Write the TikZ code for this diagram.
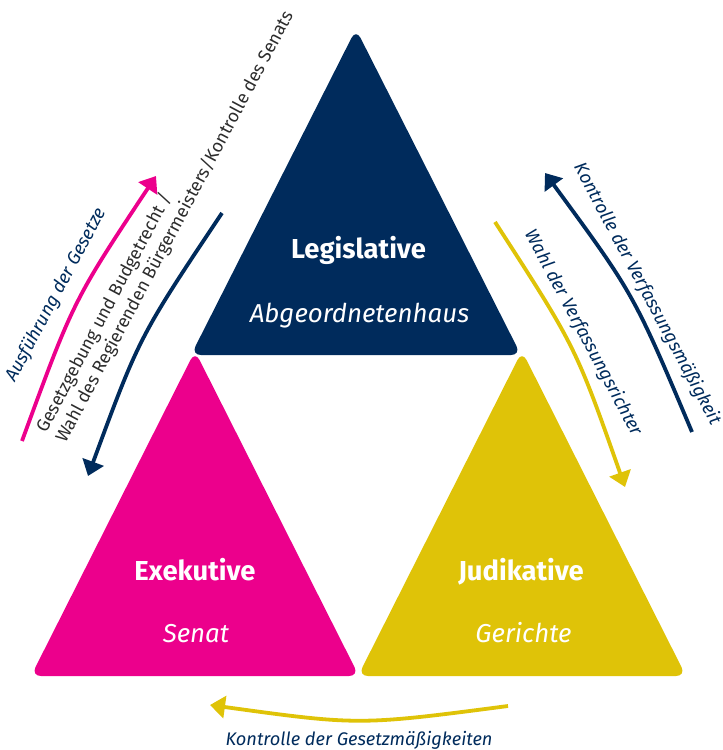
\documentclass[tikz,border=0pt]{standalone}
\usepackage{fontspec}
\setmainfont{Fira Sans}
\usetikzlibrary{arrows.meta}
\definecolor{cnavy}{RGB}{0,43,92}
\definecolor{cmag}{RGB}{236,0,140}
\definecolor{cyel}{RGB}{223,195,8}
\definecolor{cgray}{RGB}{45,45,45}
\begin{document}
\begin{tikzpicture}[x=1bp,y=-1bp,
  tri/.style={rounded corners=10bp},
  title/.style={text=white,font=\fontsize{27.5}{32}\selectfont\bfseries,inner sep=0pt,anchor=base},
  sub/.style={text=white,font=\fontsize{26}{31}\selectfont\itshape,inner sep=0pt,anchor=base},
  lbl/.style={text=cnavy,font=\fontsize{18.3}{22}\selectfont\itshape,inner sep=0pt},
  lblup/.style={text=cgray,font=\fontsize{18}{22}\selectfont,inner sep=0pt},
  arr/.style={line width=3.8bp,-{Triangle[length=15bp,width=22bp]}}]
\useasboundingbox (0,0) rectangle (723,750);
% triangles
\fill[cnavy,tri] (356,29) -- (521,355) -- (191,355) -- cycle;
\fill[cmag,tri] (195,351) -- (359,676) -- (31,676) -- cycle;
\fill[cyel,tri] (522,351) -- (686,676) -- (358,676) -- cycle;
% titles
\node[title] (leg) at (358.5,258) {Legislative};
\node[sub] (abg) at (359.5,322) {Abgeordnetenhaus};
\node[title] (exe) at (195,580) {Exekutive};
\node[sub] (sen) at (196,642) {Senat};
\node[title] (jud) at (521,580) {Judikative};
\node[sub] (ger) at (523.5,642) {Gerichte};
% arrow end points
\coordinate (pA) at (22,441);
\coordinate (pB) at (156,176);
\coordinate (nlA) at (222,213);
\coordinate (nlB) at (88,476);
\coordinate (nrA) at (692,432);
\coordinate (nrB) at (545,173);
\coordinate (yrA) at (495,222);
\coordinate (yrB) at (625,487);
\coordinate (ybA) at (508,706);
\coordinate (ybB) at (210,705);
% arrows
\draw[arr,cmag] (pA) .. controls (73.4,300.6) .. (pB);
\draw[arr,cnavy] (nlA) .. controls (139.4,336.6) .. (nlB);
\draw[arr,cnavy] (nrA) .. controls (633.7,293.9) .. (nrB);
\draw[arr,cyel] (yrA) .. controls (575.7,346.8) .. (yrB);
\draw[arr,cyel] (ybA) .. controls (359,725.5) .. (ybB);
% labels
\node[lbl,rotate=62] (ausf) at (56,295) {Ausführung der Gesetze};
\node[lblup,rotate=62,anchor=south west,align=left] (gesetz) at (69,446)
  {Gesetzgebung und Budgetrecht /\\Wahl des Regierenden Bürgermeisters/Kontrolle des Senats};
\node[lbl,rotate=-62] (kvm) at (647,294) {Kontrolle der Verfassungsmäßigkeit};
\node[lbl,rotate=-62] (wvr) at (583,333) {Wahl der Verfassungsrichter};
\node[lbl,anchor=base] (kgm) at (359,745) {Kontrolle der Gesetzmäßigkeiten};
\end{tikzpicture}
\end{document}
